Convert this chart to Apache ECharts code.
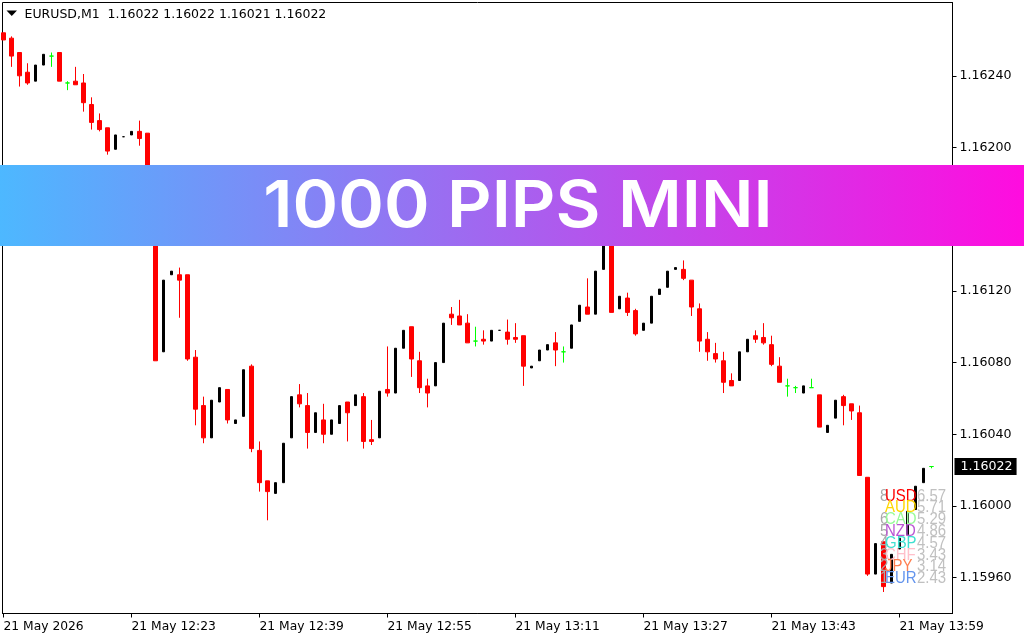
<!DOCTYPE html>
<html>
<head>
<meta charset="utf-8">
<title>1000 PIPS MINI</title>
<script src="https://cdn.jsdelivr.net/npm/echarts@6/dist/echarts.min.js"></script>
<style>
  html, body { margin: 0; padding: 0; background: #fff; }
  #chart { width: 1024px; height: 640px; }
</style>
</head>
<body>
<div id="chart"></div>
<script>
// M1 bars, oldest first. r = red, b = black, g = green doji
const candleKinds = [
  'r','r','r','r','b','b','g','r','g','r',
  'r','r','r','r','b','b','b','r','r','r',
  'b','b','r','r','r','r','b','b','r','b',
  'b','r','r','r','b','b','b','r','r','b',
  'r','b','b','r','b','r','r','b','r','b',
  'b','r','r','r','b','b','r','r','r','g',
  'r','b','b','r','r','r','b','b','b','r',
  'g','b','b','r','b','b','r','b','r','r',
  'b','b','b','b','b','r','r','r','r','r',
  'r','r','b','b','r','r','r','r','g','g',
  'b','g','r','b','b','r','r','r','r','b',
  'r','b','b','b','b','b','g'
];
const opens = [
  1.16264,1.16261,1.16253,1.16242,1.16237,1.16246,1.16251,1.16253,1.16236,1.16237,
  1.16236,1.16224,1.16215,1.16211,1.16199,1.16206,1.16207,1.16209,1.16208,1.16162,
  1.16086,1.16129,1.16129,1.16129,1.16083,1.16056,1.16038,1.16058,1.16065,1.16046,
  1.16050,1.16078,1.16031,1.16014,1.16007,1.16013,1.16038,1.16062,1.16056,1.16041,
  1.16048,1.16040,1.16046,1.16058,1.16056,1.16061,1.16037,1.16038,1.16065,1.16063,
  1.16088,1.16100,1.16081,1.16067,1.16067,1.16080,1.16107,1.16106,1.16102,1.16092,
  1.16093,1.16092,1.16098,1.16097,1.16094,1.16095,1.16077,1.16081,1.16087,1.16091,
  1.16086,1.16088,1.16103,1.16111,1.16107,1.16132,1.16155,1.16110,1.16116,1.16109,
  1.16098,1.16102,1.16118,1.16122,1.16132,1.16132,1.16126,1.16110,1.16093,1.16085,
  1.16081,1.16070,1.16070,1.16086,1.16095,1.16094,1.16090,1.16078,1.16067,1.16066,
  1.16063,1.16066,1.16062,1.16041,1.16049,1.16061,1.16057,1.16052,1.16016,1.15962,
  1.15980,1.15957,1.15976,1.15984,1.15998,1.16013,1.16022
];
const closes = [
  1.16260,1.16251,1.16240,1.16236,1.16246,1.16252,1.16251,1.16237,1.16236,1.16235,
  1.16225,1.16214,1.16210,1.16198,1.16207,1.16206,1.16209,1.16205,1.16162,1.16081,
  1.16126,1.16131,1.16126,1.16082,1.16054,1.16038,1.16059,1.16066,1.16048,1.16048,
  1.16076,1.16032,1.16013,1.16008,1.16013,1.16035,1.16061,1.16057,1.16041,1.16052,
  1.16040,1.16048,1.16056,1.16052,1.16062,1.16036,1.16036,1.16064,1.16063,1.16088,
  1.16098,1.16082,1.16066,1.16063,1.16080,1.16102,1.16105,1.16101,1.16091,1.16092,
  1.16092,1.16098,1.16098,1.16093,1.16093,1.16078,1.16078,1.16087,1.16090,1.16087,
  1.16086,1.16101,1.16112,1.16107,1.16131,1.16155,1.16108,1.16117,1.16108,1.16096,
  1.16102,1.16117,1.16121,1.16131,1.16133,1.16127,1.16111,1.16092,1.16086,1.16082,
  1.16069,1.16067,1.16086,1.16093,1.16093,1.16091,1.16079,1.16069,1.16067,1.16066,
  1.16067,1.16066,1.16044,1.16045,1.16059,1.16056,1.16053,1.16017,1.15962,1.15979,
  1.15955,1.15973,1.15982,1.15997,1.16011,1.16021,1.16022
];
const lows = [
  1.16260,1.16245,1.16234,1.16235,1.16237,1.16246,1.16245,1.16237,1.16232,1.16235,
  1.16220,1.16210,1.16209,1.16196,1.16199,1.16206,1.16207,1.16201,1.16162,1.16081,
  1.16086,1.16129,1.16105,1.16081,1.16045,1.16035,1.16038,1.16058,1.16046,1.16046,
  1.16050,1.16030,1.16008,1.15992,1.16007,1.16013,1.16038,1.16055,1.16032,1.16041,
  1.16035,1.16040,1.16046,1.16036,1.16056,1.16032,1.16034,1.16038,1.16061,1.16063,
  1.16088,1.16072,1.16063,1.16055,1.16067,1.16080,1.16101,1.16101,1.16091,1.16089,
  1.16090,1.16092,1.16098,1.16090,1.16091,1.16067,1.16077,1.16081,1.16087,1.16078,
  1.16080,1.16088,1.16103,1.16107,1.16107,1.16132,1.16108,1.16110,1.16106,1.16095,
  1.16098,1.16102,1.16118,1.16122,1.16132,1.16126,1.16106,1.16086,1.16081,1.16080,
  1.16063,1.16067,1.16070,1.16086,1.16091,1.16090,1.16078,1.16069,1.16061,1.16063,
  1.16063,1.16066,1.16044,1.16041,1.16049,1.16045,1.16048,1.16017,1.15961,1.15962,
  1.15952,1.15957,1.15976,1.15984,1.15998,1.16013,1.16021
];
const highs = [
  1.16264,1.16262,1.16253,1.16247,1.16246,1.16252,1.16253,1.16253,1.16237,1.16245,
  1.16241,1.16228,1.16219,1.16211,1.16207,1.16206,1.16209,1.16215,1.16208,1.16162,
  1.16126,1.16131,1.16133,1.16129,1.16087,1.16061,1.16059,1.16066,1.16065,1.16048,
  1.16076,1.16079,1.16036,1.16014,1.16013,1.16035,1.16061,1.16068,1.16063,1.16052,
  1.16057,1.16048,1.16056,1.16058,1.16062,1.16063,1.16048,1.16064,1.16089,1.16088,
  1.16098,1.16100,1.16086,1.16071,1.16080,1.16102,1.16111,1.16115,1.16107,1.16100,
  1.16098,1.16098,1.16098,1.16104,1.16102,1.16095,1.16078,1.16087,1.16090,1.16097,
  1.16089,1.16101,1.16112,1.16127,1.16131,1.16155,1.16155,1.16117,1.16119,1.16110,
  1.16102,1.16117,1.16121,1.16131,1.16133,1.16137,1.16126,1.16113,1.16097,1.16091,
  1.16086,1.16074,1.16086,1.16093,1.16098,1.16102,1.16095,1.16083,1.16071,1.16067,
  1.16067,1.16071,1.16062,1.16045,1.16059,1.16062,1.16057,1.16056,1.16016,1.15979,
  1.15980,1.15973,1.15982,1.15997,1.16011,1.16021,1.16022
];

const priceTicks = [1.1596, 1.16, 1.1604, 1.1608, 1.1612, 1.1616, 1.162, 1.1624];
const timeTickBars = [0, 16, 32, 48, 64, 80, 96, 112];
const timeTickLabels = [
  '21 May 2026', '21 May 12:23', '21 May 12:39', '21 May 12:55',
  '21 May 13:11', '21 May 13:27', '21 May 13:43', '21 May 13:59'
];
const lastPrice = 1.16022;
const headerText = 'EURUSD,M1  1.16022 1.16022 1.16021 1.16022';
const bannerText = '1000 PIPS MINI';

// currency strength block, bottom right of the chart (no rank is visible on the AUD row)
const strengthRanks = ['8', '', '6', '5', '4', '3', '2', '1'];
const strengthNames = ['USD', 'AUD', 'CAD', 'NZD', 'GBP', 'CHF', 'JPY', 'EUR'];
const strengthValues = ['6.57', '5.71', '5.29', '4.86', '4.57', '3.43', '3.14', '2.43'];

const nameColors = ['#ff0000', '#ffd700', '#98fb98', '#ba55d3', '#40e0d0', '#ffc0cb', '#ff7f50', '#6495ed'];
const UI_FONT = '"DejaVu Sans", sans-serif';
const STRENGTH_FONT = '17px "Liberation Sans", sans-serif';

// [bar, open, close, low, high] for one colour of candle
const barsOf = kind =>
  candleKinds.reduce((bars, k, i) => {
    if (k === kind) bars.push([i, opens[i], closes[i], lows[i], highs[i]]);
    return bars;
  }, []);

const candleSeries = (kind, color, barWidth) => ({
  type: 'candlestick',
  data: barsOf(kind),
  barWidth,
  encode: { x: 0, y: [1, 2, 3, 4] },
  itemStyle: {
    color,
    color0: color,
    borderColor: color,
    borderColor0: color,
    borderColorDoji: color,
    borderWidth: 1,
  },
});

// text squeezed a little to get the tall narrow look of the overlay
const strengthText = (text, x, y, fill, z) => ({
  type: 'text',
  z,
  silent: true,
  x,
  y,
  scaleX: 0.88,
  style: { text, fill, font: STRENGTH_FONT, textVerticalAlign: 'middle' },
});

const strengthGraphics = [];
strengthNames.forEach((name, i) => {
  const y = 496 + i * 11.8;
  strengthGraphics.push(strengthText(strengthRanks[i], 880, y, '#a9a9a9', 50));
  strengthGraphics.push(strengthText(name, 885, y, nameColors[i], 51));
  strengthGraphics.push(strengthText(strengthValues[i], 917, y, '#c0c0c0', 52));
});

const chart = echarts.init(document.getElementById('chart'));
chart.setOption({
  animation: false,
  backgroundColor: '#ffffff',
  grid: {
    show: true,
    left: 2.5,
    top: 2.5,
    right: 71.5,
    bottom: 26.5,
    borderColor: '#000',
    borderWidth: 1,
    backgroundColor: '#fff',
  },
  xAxis: {
    type: 'value',
    min: -0.125,
    max: 118.625,
    splitLine: { show: false },
    axisLine: { onZero: false, lineStyle: { color: '#000' } },
    axisTick: { length: 4, customValues: timeTickBars, lineStyle: { color: '#000' } },
    axisLabel: {
      customValues: timeTickBars,
      align: 'left',
      margin: 7,
      color: '#000',
      fontFamily: UI_FONT,
      fontSize: 12.3,
      formatter: value => timeTickLabels[timeTickBars.indexOf(value)],
    },
  },
  yAxis: {
    type: 'value',
    position: 'right',
    min: 1.1594,
    max: 1.162809,
    splitLine: { show: false },
    axisLine: { show: true, onZero: false, lineStyle: { color: '#000' } },
    axisTick: { length: 4, customValues: priceTicks, lineStyle: { color: '#000' } },
    axisLabel: {
      customValues: priceTicks,
      margin: 7,
      padding: [4, 0, 0, 0],
      color: '#000',
      fontFamily: UI_FONT,
      fontSize: 12.6,
      formatter: value => value.toFixed(5),
    },
  },
  series: [
    candleSeries('r', '#ff0000', 4),
    candleSeries('b', '#000000', 2),
    {
      ...candleSeries('g', '#00ff00', 4),
      // current price tag on the price scale
      markLine: {
        silent: true,
        symbol: 'none',
        precision: 5,
        lineStyle: { opacity: 0 },
        data: [{ yAxis: lastPrice }],
        label: {
          position: 'end',
          distance: 2,
          color: '#fff',
          opacity: 1,
          backgroundColor: '#000',
          padding: [2, 4, 2, 6],
          fontFamily: UI_FONT,
          fontSize: 12.6,
          formatter: () => lastPrice.toFixed(5),
        },
      },
    },
  ],
  graphic: [
    { type: 'polygon', z: 40, silent: true, shape: { points: [[6.5, 10.5], [17, 10.5], [11.75, 16]] }, style: { fill: '#000' } },
    { type: 'text', z: 40, silent: true, style: { text: headerText, x: 24.5, y: 15, fill: '#000', font: '12.5px ' + UI_FONT, textVerticalAlign: 'middle' } },
    ...strengthGraphics,
    {
      type: 'rect',
      z: 100,
      silent: true,
      shape: { x: 0, y: 165, width: 1024, height: 81 },
      style: {
        fill: new echarts.graphic.LinearGradient(0, 0, 1, 0, [
          { offset: 0, color: '#4db8ff' },
          { offset: 1, color: '#ff0cdf' },
        ]),
      },
    },
    {
      type: 'text',
      z: 101,
      silent: true,
      x: 518,
      y: 207.5,
      scaleX: 1.065,
      style: {
        text: bannerText,
        fill: '#fff',
        font: '600 65px Inter, "Open Sans", sans-serif',
        textAlign: 'center',
        textVerticalAlign: 'middle',
      },
    },
  ],
});
</script>
</body>
</html>
